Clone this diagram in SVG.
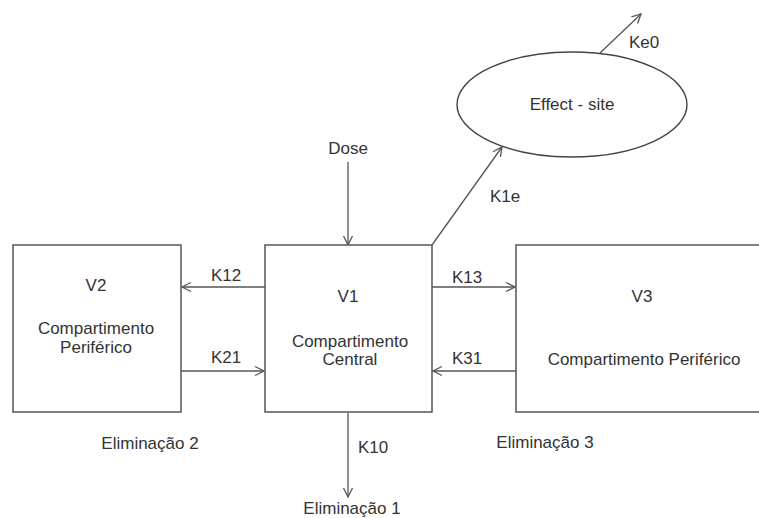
<svg xmlns="http://www.w3.org/2000/svg" width="759" height="518" viewBox="0 0 759 518">
<style>
.box{fill:#fff;stroke:#555;stroke-width:1.5}
.ln{stroke:#555;stroke-width:1.3;fill:none;marker-end:url(#ah)}
text{font-family:"Liberation Sans",Arial,sans-serif;font-size:17px;fill:#333;text-anchor:middle}
</style>
<defs>
<marker id="ah" viewBox="0 0 12 12" refX="11" refY="6" markerWidth="12" markerHeight="12" markerUnits="userSpaceOnUse" orient="auto">
<path d="M2,1.5 L11,6 L2,10.5" fill="none" stroke="#555" stroke-width="1.3"/>
</marker>
</defs>
<rect width="759" height="518" fill="#fff"/>
<g id="connectors">
<line class="ln" x1="348" y1="162" x2="348" y2="245"/>
<line class="ln" x1="432" y1="245" x2="502" y2="147"/>
<line class="ln" x1="600" y1="53" x2="641" y2="14"/>
<line class="ln" x1="265" y1="287" x2="182" y2="287"/>
<line class="ln" x1="181" y1="371" x2="264" y2="371"/>
<line class="ln" x1="432" y1="287" x2="515" y2="287"/>
<line class="ln" x1="516" y1="371" x2="433" y2="371"/>
<line class="ln" x1="348" y1="413" x2="348" y2="497"/>
<text x="226" y="281">K12</text>
<text x="226" y="363">K21</text>
<text x="467" y="283">K13</text>
<text x="467" y="364">K31</text>
<text x="505" y="202">K1e</text>
<text x="644" y="48">Ke0</text>
<text x="373" y="453">K10</text>
</g>
<g id="effect-site">
<ellipse cx="572" cy="104.5" rx="115" ry="52.5" fill="none" stroke="#444" stroke-width="1.4"/>
<text x="572" y="110">Effect - site</text>
</g>
<g id="dose"><text x="348" y="154">Dose</text></g>
<g id="v2">
<rect class="box" x="13" y="245" width="168" height="167"/>
<text x="96" y="291">V2</text>
<text x="96" y="334">Compartimento</text>
<text x="96" y="353">Periférico</text>
</g>
<g id="v1">
<rect class="box" x="265" y="245" width="167" height="167"/>
<text x="348" y="302">V1</text>
<text x="350" y="347">Compartimento</text>
<text x="350" y="365">Central</text>
</g>
<g id="v3">
<rect class="box" x="516" y="245" width="250" height="167"/>
<text x="642" y="302">V3</text>
<text x="644" y="365">Compartimento Periférico</text>
</g>
<g id="elim1"><text x="352" y="514">Eliminação 1</text></g>
<g id="elim2"><text x="150" y="449">Eliminação 2</text></g>
<g id="elim3"><text x="545" y="448">Eliminação 3</text></g>
</svg>
